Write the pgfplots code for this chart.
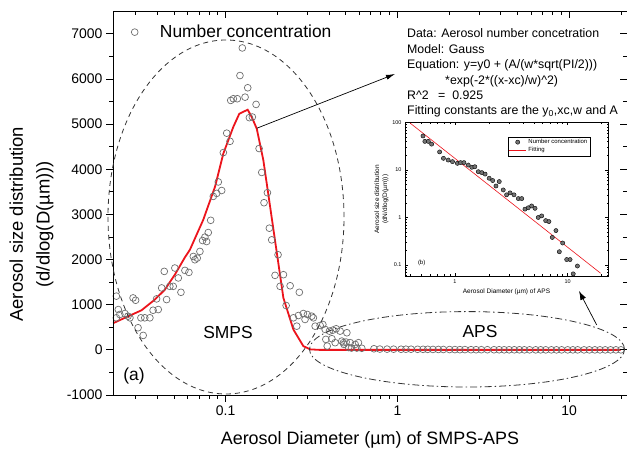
\documentclass[border=0pt]{standalone}
\usepackage{pgfplots}
\usepackage{pgfplotstable}
\pgfplotsset{compat=1.18}
\usepackage{fontspec}
\setmainfont{Liberation Sans}
\usetikzlibrary{arrows.meta}

\definecolor{ringgray}{RGB}{110,110,110}
\definecolor{fitred}{RGB}{236,20,28}

% SMPS size distribution (number concentration)
\pgfplotstableread{
x y
0.0231 1190
0.0231 710
0.0237 893
0.0242 783
0.0259 805
0.0270 746
0.0277 710
0.0289 1151
0.0299 1099
0.0309 490
0.0321 710
0.0331 320
0.0338 710
0.0362 710
0.0378 878
0.0396 1129
0.0405 893
0.0424 1372
0.0439 1738
0.0453 1114
0.0473 1407
0.0495 1407
0.0506 1813
0.0530 1593
0.0549 1275
0.0579 1760
0.0611 1716
0.0648 2069
0.0662 1996
0.0683 2033
0.0708 2180
0.0734 2422
0.0757 2497
0.0775 2400
0.0792 2599
0.0818 2870
0.0847 3400
0.0887 3467
0.0906 3720
0.0948 3530
0.0969 4370
0.1014 4800
0.1060 4620
0.1070 5526
0.1108 5563
0.1169 5563
0.1211 6077
0.1250 6688
0.1297 5598
0.1344 5806
0.1374 5144
0.1430 5158
0.1503 5437
0.1565 4460
0.1622 3930
0.1672 3260
0.1750 3481
0.1796 2695
0.1854 2437
0.1938 1650
0.2018 2107
0.2074 1407
0.2169 1665
0.2249 982
0.2373 1420
0.2480 710
0.2594 525
0.2652 761
0.2684 1275
0.2832 805
0.2897 673
0.2990 783
0.3171 746
0.3241 710
0.3318 525
0.3548 540
0.3679 562
0.3797 452
0.3830 232
0.3900 84
0.4018 415
0.4150 247
0.4206 437
0.4338 159
0.4398 467
0.4637 415
0.4745 194
0.4849 159
0.4880 121
0.5027 172
0.5077 379
0.5309 159
0.5675 121
0.5930 159
}\smpsdata

% APS size distribution
\pgfplotstableread{
x y
0.52 52
0.54 40
0.58 40
0.62 35
0.73 24
0.79 17.6
0.87 16.2
0.95 15
1.05 13.8
1.12 14.3
1.20 14.3
1.31 12.7
1.41 11.4
1.50 11.7
1.61 9.2
1.73 8.8
1.85 8.2
2.01 6.7
2.16 6.0
2.31 4.6
2.47 5.7
2.68 3.8
2.87 3.0
3.08 3.3
3.34 3.0
3.65 2.5
3.91 2.5
4.18 1.5
4.47 1.6
4.79 1.75
5.13 1.56
5.48 1.0
5.88 1.08
6.38 0.86
6.82 0.82
7.30 0.38
7.87 0.53
8.43 0.19
9.03 0.29
9.80 0.13
10.5 0.13
11.2 0.065
12.2 0.095
}\apsdata

% APS channels above 12 um (no counts)
\pgfplotstableread{
x y
13.1 0
14.1 0
15.1 0
16.2 0
17.4 0
18.7 0
20.0 0
}\apstail

% Gauss fit evaluated on the SMPS channels
\pgfplotstableread{
x y
0.0221 590
0.0259 710
0.0324 878
0.0387 1114
0.0443 1335
0.0506 1665
0.0579 2050
0.0619 2217
0.0740 2879
0.0867 3614
0.0969 4349
0.1107 4936
0.1200 5230
0.1343 5320
0.1418 5158
0.1517 4900
0.1657 4202
0.2168 1150
0.2478 452
0.2832 84
0.3100 11
0.3500 0
19.90 0
}\gaussfit

\begin{document}
\begin{tikzpicture}[x=1bp,y=1bp]
\useasboundingbox (-113,-55) rectangle (514,395);

\begin{axis}[
  at={(0,0)}, anchor=south west,
  scale only axis, width=514bp, height=383.7bp,
  xmode=log, xmin=0.02208, xmax=21.7,
  ymin=-1000, ymax=7500,
  xtick={0.1,1,10}, xticklabels={0.1,1,10},
  minor xtick={0.03,0.04,0.05,0.06,0.07,0.08,0.09,0.2,0.3,0.4,0.5,0.6,0.7,0.8,0.9,2,3,4,5,6,7,8,9,20},
  ytick={-1000,0,1000,2000,3000,4000,5000,6000,7000},
  minor y tick num=1,
  xtick pos=left, ytick pos=left,
  tick align=outside,
  major tick length=7bp, minor tick length=4bp,
  tick style={black, line width=0.8bp},
  axis line style={line width=0.9bp},
  /pgf/number format/assume math mode=true,
  /pgf/number format/1000 sep={},
  tick label style={font=\fontsize{14}{16}\selectfont},
  xlabel={Aerosol Diameter (µm) of SMPS-APS},
  xlabel style={font=\fontsize{18}{20}\selectfont, at={(axis description cs:0.5,-0.117)}, anchor=center},
  ylabel={Aerosol size distribution\\(d/dlog(D(µm)))},
  ylabel style={font=\fontsize{18.5}{27}\selectfont, align=center, at={(axis description cs:-0.1586,0.445)}, anchor=center, rotate=0},
  legend style={at={(axis description cs:0.024,0.975)}, anchor=north west, draw=none, fill=none,
    font=\fontsize{17.5}{20}\selectfont, legend cell align=left},
  legend image code/.code={\path (0bp,0bp) (29bp,0bp); \draw[#1] plot coordinates {(6bp,0bp)};},
]
\addplot[only marks, mark=o, mark size=3.4bp, ringgray, mark options={line width=0.7bp}] table {\smpsdata};
\addlegendentry{Number concentration}
\addplot[only marks, mark=o, mark size=3.4bp, ringgray, mark options={line width=0.7bp}, forget plot] table {\apsdata};
\addplot[only marks, mark=o, mark size=3.4bp, ringgray, mark options={line width=0.7bp}, forget plot] table {\apstail};
\addplot[fitred, line width=1.8bp, forget plot] table {\gaussfit};
\end{axis}

% inward ticks on the top and right edges
\begin{axis}[
  at={(0,0)}, anchor=south west,
  scale only axis, width=514bp, height=383.7bp,
  xmode=log, xmin=0.02208, xmax=21.7,
  ymin=-1000, ymax=7500,
  xtick={0.1,1,10}, xticklabels={},
  minor xtick={0.03,0.04,0.05,0.06,0.07,0.08,0.09,0.2,0.3,0.4,0.5,0.6,0.7,0.8,0.9,2,3,4,5,6,7,8,9,20},
  ytick={-1000,0,1000,2000,3000,4000,5000,6000,7000}, yticklabels={},
  minor y tick num=1,
  xtick pos=right, ytick pos=right,
  tick align=inside,
  major tick length=7bp, minor tick length=4bp,
  tick style={black, line width=0.8bp},
  axis line style={line width=0.9bp},
]
\end{axis}

% region outlines and labels
\draw[black!80, line width=0.8bp, dash pattern=on 5bp off 4bp] (113,178) ellipse [x radius=118bp, y radius=177bp];
\draw[black!80, line width=0.8bp, dash pattern=on 7bp off 3bp on 1.5bp off 3bp] (354,45.7) ellipse [x radius=157.5bp, y radius=37.7bp];
\node[font=\fontsize{17.5}{20}\selectfont] at (115,62) {SMPS};
\node[font=\fontsize{17.5}{20}\selectfont] at (367,63) {APS};
\node[font=\fontsize{17.5}{20}\selectfont] at (21,19) {(a)};

\draw[-{Latex[length=9bp,width=5bp]}, line width=0.7bp] (143.7,266.7) -- (282,321);
\draw[-{Latex[length=9bp,width=6bp]}, line width=0.7bp] (483.7,70) -- (466,104);

% fit description
\begin{scope}[every node/.style={anchor=base west, inner sep=0pt, font=\fontsize{12.4}{14}\selectfont}]
\node at (294,357) {Data: Aerosol number concetration};
\node at (294,341.5) {Model: Gauss};
\node at (294,326) {Equation: y=y0 + (A/(w*sqrt(PI/2)))};
\node at (332,310.5) {*exp(-2*((x-xc)/w)\textasciicircum 2)};
\node at (294,295) {R\textasciicircum 2};
\node at (325,295) {= \ 0.925};
\node at (294,280) {Fitting constants are the y\textsubscript{0},xc,w and A};
\end{scope}

% inset: APS range on log-log scale
\begin{axis}[
  at={(292bp,119bp)}, anchor=south west,
  scale only axis, width=203bp, height=153.5bp,
  xmode=log, ymode=log,
  xmin=0.36, xmax=22.8, ymin=0.0586, ymax=100,
  xtick={1,10}, xticklabels={1,10},
  ytick={0.1,1,10,100}, yticklabels={0.1,1,10,100},
  minor xtick={0.4,0.5,0.6,0.7,0.8,0.9,2,3,4,5,6,7,8,9,20},
  minor ytick={0.06,0.07,0.08,0.09,0.2,0.3,0.4,0.5,0.6,0.7,0.8,0.9,2,3,4,5,6,7,8,9,20,30,40,50,60,70,80,90},
  tick align=inside,
  major tick length=3bp, minor tick length=1.5bp,
  tick style={black, line width=0.4bp},
  axis line style={line width=0.5bp},
  axis background/.style={fill=white},
  tick label style={font=\fontsize{5.5}{6}\selectfont},
  xlabel={Aerosol Diameter (µm) of APS},
  ylabel={Aerosol size distribution\\(dN/dlog(D(µm)))},
  label style={font=\fontsize{6.5}{8}\selectfont, align=center},
  xlabel style={yshift=1bp},
  ylabel style={yshift=-3bp},
  legend style={at={(0.911,0.908)}, anchor=north east, font=\fontsize{6}{7}\selectfont,
    draw=black, line width=0.3bp, inner sep=0.5bp, row sep=-1.5bp, legend cell align=left},
]
\addplot[only marks, mark=*, mark size=2.1bp, draw=black, fill=black!55, mark options={line width=0.4bp}] table {\apsdata};
\addlegendentry{Number concentration}
\addplot[fitred, line width=0.6bp] coordinates {(0.4,97) (19.6,0.067)};
\addlegendentry{Fitting}
\node[font=\fontsize{6}{7}\selectfont] at (axis description cs:0.082,0.083) {(b)};
\end{axis}
\end{tikzpicture}
\end{document}
